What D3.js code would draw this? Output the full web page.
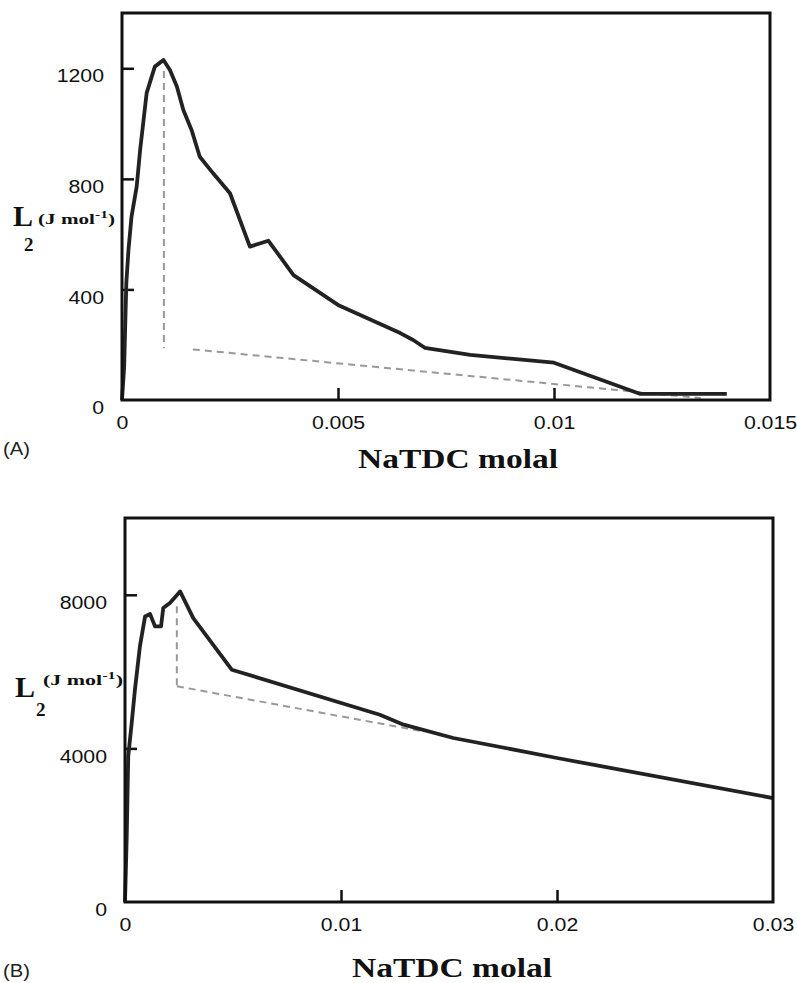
<!DOCTYPE html>
<html>
<head>
<meta charset="utf-8">
<script src="https://cdn.jsdelivr.net/npm/d3@7"></script>
<style>
  body { margin: 0; background: #fff; }
  svg { display: block; }
  .tick text { font-family: "Liberation Sans", Arial, sans-serif; font-size: 19px; fill: #111; }
  .tick line { stroke: #111; stroke-width: 2.5; }
  .frame { fill: none; stroke: #111; stroke-width: 3; }
  .curve { fill: none; stroke: #222; stroke-width: 3.8; stroke-linejoin: round; }
  .guide { fill: none; stroke: #999; stroke-width: 2; stroke-dasharray: 7,5; }
  .title { font-family: "Liberation Serif", "Times New Roman", serif; font-weight: bold; font-size: 27px; fill: #111; }
  .ylab { font-family: "Liberation Serif", "Times New Roman", serif; font-weight: bold; fill: #111; }
  .panel { font-family: "Liberation Sans", Arial, sans-serif; font-size: 18px; fill: #222; }
</style>
</head>
<body>
<div class="wrapper"></div>
<script>
// panel A data (NaTDC molal vs L2)
var molalA = [0, 0.00005, 0.0001, 0.00015, 0.00022, 0.00034, 0.00042, 0.00057, 0.00076, 0.00096,
  0.00111, 0.00127, 0.00142, 0.00161, 0.0018, 0.00211, 0.0025, 0.00296, 0.00339, 0.00397,
  0.005, 0.00644, 0.00674, 0.00701, 0.00806, 0.01, 0.012, 0.014];
var l2A = [0, 120, 423, 543, 663, 772, 905, 1110, 1206, 1230,
  1194, 1134, 1049, 977, 880, 820, 748, 555, 576, 452,
  344, 242, 217, 189, 163, 135, 22, 22];
var guideVA = { x: [0.00097, 0.00097], y: [1190, 187] };
var guideSA = { x: [0.00164, 0.0134], y: [183, 7] };

// panel B data
var molalB = [0, 0.00008, 0.00015, 0.00031, 0.00046, 0.00069, 0.00093, 0.00116, 0.00139, 0.00167,
  0.00177, 0.00208, 0.00255, 0.00316, 0.00494, 0.0118, 0.0129, 0.0152, 0.02, 0.03];
var l2B = [0, 1708, 3791, 4661, 5528, 6656, 7437, 7500, 7177, 7177,
  7656, 7786, 8088, 7395, 6049, 4877, 4617, 4271, 3750, 2708];
var guideVB = { x: [0.0024, 0.0024], y: [7700, 5620] };
var guideSB = { x: [0.0024, 0.0138], y: [5620, 4442] };

var xTicksA = [0, 0.005, 0.01, 0.015];
var yTicksA = [0, 400, 800, 1200];
var xTicksB = [0, 0.01, 0.02, 0.03];
var yTicksB = [0, 4000, 8000];

var xTitle = "NaTDC molal";

var svg = d3.select(".wrapper").append("svg").attr("width", 797).attr("height", 983);

function drawPanel(opt) {
  var x = d3.scaleLinear().domain(opt.xDomain).range([opt.left, opt.right]);
  var y = d3.scaleLinear().domain(opt.yDomain).range([opt.bottom, opt.top]);
  var g = svg.append("g");

  var yAxis = d3.axisLeft(y).tickValues(opt.yTicks).tickSizeInner(-12).tickSizeOuter(0)
    .tickPadding(18).tickFormat(d3.format("d"));
  var ya = g.append("g").attr("transform", "translate(" + opt.left + ",0)").call(yAxis);
  ya.select(".domain").remove();
  ya.selectAll("text").attr("dy", "0.72em").classed("stretch", true);
  ya.selectAll(".tick").filter(d => d === 0).select("line").remove();

  var xAxis = d3.axisBottom(x).tickValues(opt.xTicks).tickSizeInner(-12).tickSizeOuter(0)
    .tickPadding(16).tickFormat(d => d === 0 ? "0" : String(+d.toFixed(3)));
  var xa = g.append("g").attr("transform", "translate(0," + opt.bottom + ")").call(xAxis);
  xa.select(".domain").remove();
  xa.selectAll("text").classed("stretch", true);
  xa.selectAll(".tick").filter((d, i) => i === 0 || i === opt.xTicks.length - 1).select("line").remove();

  var line = d3.line().x(d => x(d[0])).y(d => y(d[1]));

  [opt.guideV, opt.guideS].forEach(gd => {
    g.append("path").attr("class", "guide").attr("d", line(d3.zip(gd.x, gd.y)));
  });

  g.append("path").attr("class", "curve").attr("d", line(d3.zip(opt.xs, opt.ys)));

  g.append("rect").attr("class", "frame")
    .attr("x", opt.left).attr("y", opt.top)
    .attr("width", opt.right - opt.left).attr("height", opt.bottom - opt.top);

  // axis title
  g.append("text").attr("class", "title")
    .attr("x", opt.titleX).attr("y", opt.titleY).attr("text-anchor", "middle")
    .attr("textLength", 200).attr("lengthAdjust", "spacingAndGlyphs")
    .text(xTitle);

  // panel letter
  g.append("text").attr("class", "panel stretch").attr("x", 3).attr("y", opt.letterY).text(opt.letter);

  // y label: L2 (J mol-1)
  var lab = opt.ylab;
  g.append("text").attr("class", "ylab").attr("x", lab.x).attr("y", lab.y)
    .style("font-size", "30px").text("L");
  g.append("text").attr("class", "ylab").attr("x", lab.sx).attr("y", lab.y + lab.subDy)
    .style("font-size", "19px").text("2");
  var u = g.append("text").attr("class", "ylab").attr("x", lab.ux).attr("y", lab.uy)
    .style("font-size", "15px");
  u.append("tspan").text("(J mol");
  u.append("tspan").attr("dy", -6).style("font-size", "11px").text("-1");
  u.append("tspan").attr("dy", 6).text(")");
  u.attr("textLength", lab.uw).attr("lengthAdjust", "spacingAndGlyphs");
}

drawPanel({
  left: 122, right: 770, top: 13, bottom: 400,
  xDomain: [0, 0.015], yDomain: [0, 1400],
  xTicks: xTicksA, yTicks: yTicksA,
  xs: molalA, ys: l2A, guideV: guideVA, guideS: guideSA,
  titleX: 458, titleY: 468, letter: "(A)", letterY: 455,
  ylab: { x: 13, y: 226, sx: 24, subDy: 25, ux: 38, uy: 224, uw: 77 }
});

drawPanel({
  left: 125, right: 773, top: 518, bottom: 902,
  xDomain: [0, 0.03], yDomain: [0, 10000],
  xTicks: xTicksB, yTicks: yTicksB,
  xs: molalB, ys: l2B, guideV: guideVB, guideS: guideSB,
  titleX: 452, titleY: 977, letter: "(B)", letterY: 977,
  ylab: { x: 15, y: 697, sx: 36, subDy: 19, ux: 43, uy: 685, uw: 80 }
});

// tick labels in the source look a little wider than the font
svg.selectAll("text.stretch").each(function() {
  var w = this.getComputedTextLength();
  d3.select(this).attr("textLength", w * 1.12).attr("lengthAdjust", "spacingAndGlyphs");
});
</script>
</body>
</html>
